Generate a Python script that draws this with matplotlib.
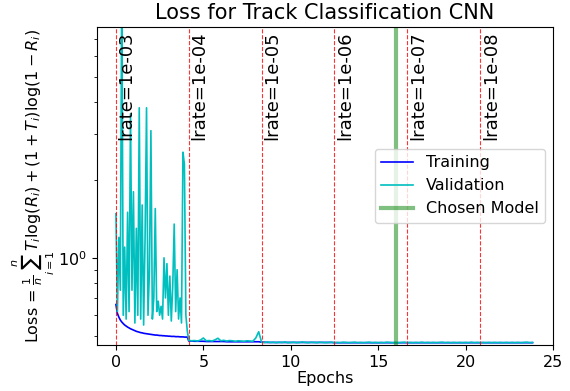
import matplotlib.pyplot as plt
import numpy as np

# first learning-rate block, sampled every 1/12 epoch
train_early = [0.66, 0.61, 0.59, 0.575, 0.565, 0.557, 0.55, 0.545, 0.54, 0.536,
               0.532, 0.529, 0.526, 0.523, 0.52, 0.518, 0.516, 0.514, 0.513, 0.511,
               0.51, 0.509, 0.508, 0.507, 0.506, 0.505, 0.504, 0.503, 0.503, 0.502,
               0.501, 0.501, 0.5, 0.5, 0.499, 0.499, 0.498, 0.498, 0.497, 0.497,
               0.497, 0.496, 0.496, 0.496, 0.495, 0.495, 0.495, 0.494, 0.494, 0.494]
val_early = [1.48, 0.62, 1.2, 0.75, 12.0, 0.6, 1.1, 0.58, 1.5, 0.62,
             3.6, 0.75, 1.8, 0.56, 1.3, 0.6, 3.8, 0.58, 1.6, 0.55,
             1.2, 3.8, 0.6, 0.9, 3.1, 0.58, 0.7, 1.55, 0.62, 0.68,
             0.6, 0.65, 0.58, 1.0, 0.7, 0.95, 0.6, 0.85, 0.57, 0.78,
             1.35, 0.62, 0.9, 0.58, 0.7, 0.56, 2.56, 2.3, 0.6, 0.52]

# remaining blocks, sampled every 1/6 epoch
train_late = [0.477, 0.477, 0.476, 0.476, 0.476, 0.476, 0.475, 0.475, 0.475, 0.475,
              0.475, 0.475, 0.475, 0.474, 0.474, 0.474, 0.474, 0.474, 0.474, 0.474,
              0.474, 0.474, 0.474, 0.474, 0.474,
              0.472, 0.472, 0.471, 0.471, 0.471, 0.471, 0.471, 0.471, 0.471, 0.471,
              0.471, 0.471, 0.471, 0.471, 0.471, 0.471, 0.471, 0.471, 0.471, 0.471,
              0.471, 0.471, 0.471, 0.471, 0.471, 0.470, 0.470, 0.470, 0.470, 0.470,
              0.470, 0.470, 0.470, 0.470, 0.470, 0.470, 0.470, 0.470, 0.470, 0.470,
              0.470, 0.470, 0.470, 0.470, 0.470, 0.470, 0.470, 0.470, 0.470, 0.470,
              0.470, 0.470, 0.470, 0.470, 0.470, 0.470, 0.470, 0.470, 0.470, 0.470,
              0.470, 0.470, 0.470, 0.470, 0.470, 0.470, 0.470, 0.470, 0.470, 0.470,
              0.470, 0.470, 0.470, 0.470, 0.470, 0.470, 0.470, 0.470, 0.470, 0.470,
              0.470, 0.470, 0.470, 0.470, 0.470, 0.470, 0.470, 0.470, 0.470, 0.470,
              0.470, 0.470, 0.470, 0.470]
val_late = [0.480, 0.478, 0.479, 0.477, 0.481, 0.490, 0.478, 0.479, 0.477, 0.482,
            0.489, 0.478, 0.480, 0.477, 0.479, 0.478, 0.476, 0.478, 0.477, 0.476,
            0.478, 0.477, 0.476, 0.490, 0.518,
            0.472, 0.470, 0.473, 0.471, 0.472, 0.470, 0.472, 0.471, 0.473, 0.470,
            0.471, 0.472, 0.470, 0.471, 0.473, 0.471, 0.470, 0.472, 0.471, 0.470,
            0.472, 0.471, 0.470, 0.471, 0.472, 0.470, 0.471, 0.470, 0.472, 0.471,
            0.470, 0.471, 0.472, 0.470, 0.471, 0.470, 0.471, 0.472, 0.470, 0.471,
            0.470, 0.471, 0.470, 0.472, 0.471, 0.470, 0.471, 0.470, 0.471, 0.472,
            0.470, 0.471, 0.470, 0.471, 0.470, 0.472, 0.470, 0.471, 0.470, 0.471,
            0.470, 0.471, 0.472, 0.470, 0.471, 0.470, 0.471, 0.470, 0.471, 0.470,
            0.471, 0.470, 0.472, 0.470, 0.471, 0.470, 0.471, 0.470, 0.471, 0.470,
            0.471, 0.470, 0.471, 0.470, 0.471, 0.470, 0.471, 0.470, 0.471, 0.470,
            0.471, 0.472, 0.470, 0.471]

lr_epochs = [0, 25 / 6, 50 / 6, 75 / 6, 100 / 6, 125 / 6]
lr_labels = ["1e-03", "1e-04", "1e-05", "1e-06", "1e-07", "1e-08"]
chosen_epoch = 16.0

epochs = np.concatenate([np.arange(len(train_early)) / 12,
                         25 / 6 + np.arange(len(train_late)) / 6])
train = np.array(train_early + train_late)
val = np.array(val_early + val_late)

fig = plt.figure(figsize=(5.7, 3.91), dpi=100)
ax = fig.add_axes([0.170, 0.118, 0.800, 0.813])

ax.plot(epochs, train, color='b', lw=1.2, label='Training')
ax.plot(epochs, val, color='c', lw=1.2, label='Validation')
ax.axvline(chosen_epoch, color='g', lw=3, alpha=0.5, label='Chosen Model')

for e, lab in zip(lr_epochs, lr_labels):
    ax.axvline(e, color='r', ls='--', lw=0.8, alpha=0.8)
    ax.text(e + 0.1, 0.985, "lrate=" + lab, rotation=90, va='top', ha='left',
            fontsize=13, transform=ax.get_xaxis_transform())

ax.set_yscale('log')
ax.set_xlim(-1.09, 25)
ax.set_ylim(0.461, 7.8)
ax.yaxis.set_minor_formatter(plt.NullFormatter())
ax.tick_params(labelsize=11.5)

ax.set_title("Loss for Track Classification CNN", fontsize=15)
ax.set_xlabel("Epochs", fontsize=11.5, labelpad=1)
ax.set_ylabel(r"Loss = $\frac{1}{n}\sum_{i=1}^{n}T_i\log(R_i) + (1+T_i)\log(1-R_i)$",
              fontsize=11.5, labelpad=1)
ax.legend(loc='center right', fontsize=11.5)

plt.savefig("out.png")
